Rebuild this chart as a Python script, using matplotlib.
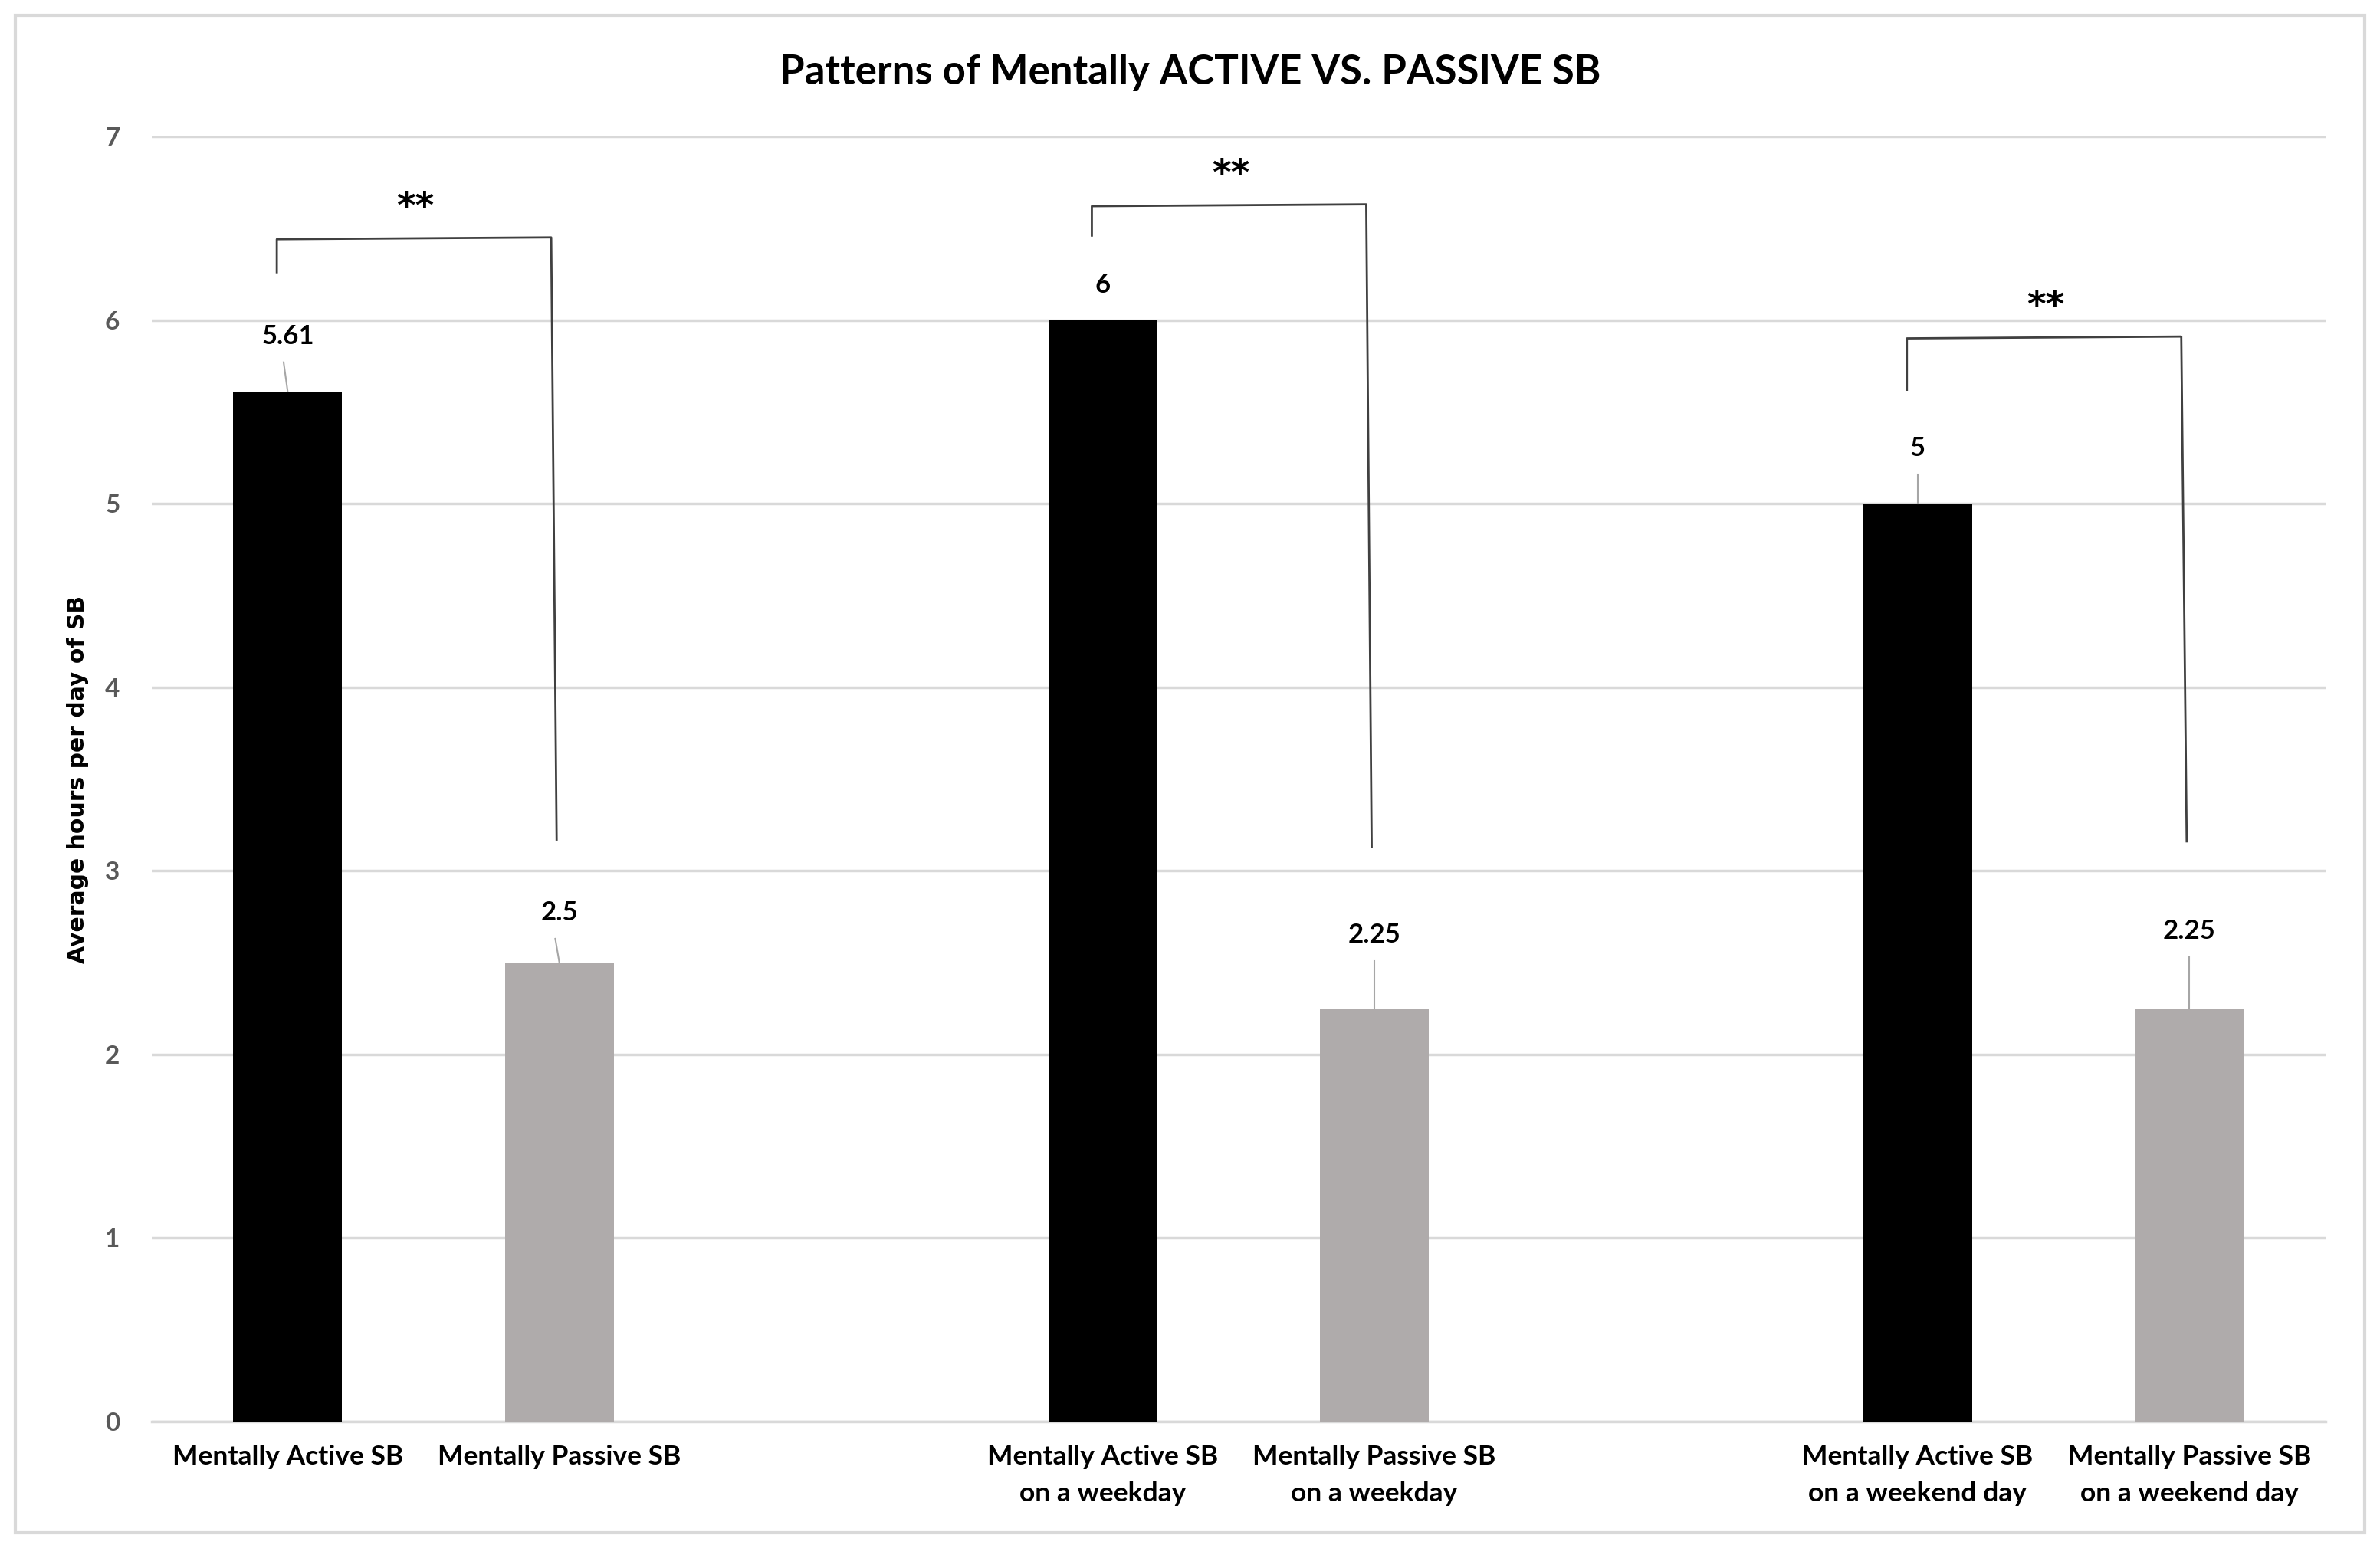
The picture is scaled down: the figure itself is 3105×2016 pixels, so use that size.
import numpy as np
import matplotlib.pyplot as plt
from matplotlib.patches import Rectangle

# chart data
categories = ['Mentally Active SB', 'Mentally Passive SB', '',
              'Mentally Active SB\non a weekday', 'Mentally Passive SB\non a weekday', '',
              'Mentally Active SB\non a weekend day', 'Mentally Passive SB\non a weekend day']
values = [5.61, 2.5, None, 6.0, 2.25, None, 5.0, 2.25]
value_labels = ['5.61', '2.5', '', '6', '2.25', '', '5', '2.25']
colors = ['#000000', '#AFABAB', None, '#000000', '#AFABAB', None, '#000000', '#AFABAB']

# significance brackets: (left bar, right bar, top, left leg bottom, right leg bottom, text)
brackets = [(0, 1, 6.44, 6.26, 3.17, '**'),
            (3, 4, 6.62, 6.46, 3.13, '**'),
            (6, 7, 5.90, 5.62, 3.16, '**')]

# data label offset above bar (in data units) and whether a leader line is drawn
label_offset = [0.30, 0.27, 0, 0.19, 0.40, 0, 0.30, 0.42]
leader = [True, True, False, False, True, False, True, True]

fig = plt.figure(figsize=(31.05, 20.16), dpi=100)
ax = fig.add_axes([0.0638, 0.0799, 0.9132, 0.8318])

# outer border like the office chart frame
fig.patches.append(Rectangle((0.0065, 0.008), 0.987, 0.982, transform=fig.transFigure,
                             fill=False, edgecolor='#D9D9D9', linewidth=3))

x = np.arange(len(categories))
for i, v in enumerate(values):
    if v is None:
        continue
    ax.bar(x[i], v, width=0.4, color=colors[i], zorder=3)
    ty = v + label_offset[i]
    ax.text(x[i], ty, value_labels[i], ha='center', va='center', fontsize=25,
            fontweight='bold', family='Lato', zorder=4)
    if leader[i]:
        ax.plot([x[i] - 0.015 if i < 2 else x[i], x[i]], [ty - 0.14, v], color='#A6A6A6',
                lw=1.5, zorder=4)

for a, b, top, lb, rb, txt in brackets:
    ax.plot([x[a] - 0.04, x[a] - 0.04, x[b] - 0.03, x[b] - 0.01], [lb, top, top + 0.01, rb],
            color='#404040', lw=2, zorder=4)
    ax.text((x[a] + x[b]) / 2 - 0.03, top + 0.17, txt, ha='center', va='center',
            fontsize=34, fontweight='bold', family='DejaVu Sans')

ax.set_xlim(-0.5, len(categories) - 0.5)
ax.set_ylim(0, 7)
ax.set_yticks(range(0, 8))
ax.yaxis.grid(True, color='#D9D9D9', lw=2.5, zorder=0)
ax.set_axisbelow(True)
for s in ['top', 'right', 'left']:
    ax.spines[s].set_visible(False)
ax.spines['bottom'].set_color('#D9D9D9')
ax.spines['bottom'].set_linewidth(2.5)

ax.set_xticks(x)
ax.set_xticklabels(categories, fontsize=25.5, fontweight='bold', family='Lato', linespacing=1.6)
ax.tick_params(axis='x', length=0, pad=22)
ax.tick_params(axis='y', length=0, pad=30, labelsize=24, labelcolor='#595959')
for t in ax.get_yticklabels():
    t.set_family('Lato')
    t.set_fontweight('bold')

ax.set_ylabel('Average hours per day of SB', fontsize=21.5, fontweight='bold',
              family='DejaVu Sans', labelpad=15)
fig.text(0.5, 0.953, 'Patterns of Mentally ACTIVE VS. PASSIVE SB', ha='center', va='center',
         fontsize=38, fontweight='bold', family='Lato')

fig.savefig('out.png', dpi=100)
